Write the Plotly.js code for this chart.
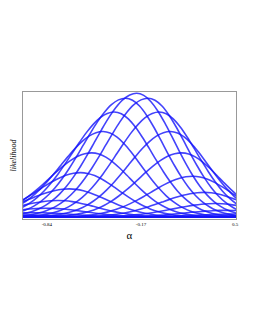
<!DOCTYPE html>
<html><head><meta charset="utf-8">
<script src="https://cdn.plot.ly/plotly-3.0.1.min.js"></script>
<style>html,body{margin:0;padding:0;background:#fff}#chart{width:255px;height:330px}</style>
</head><body><div id="chart"></div>
<script>
// arch (slice) peak positions on the alpha axis and their peak likelihoods
const archCenters = [-1.24,-1.16,-1.08,-1.00,-0.92,-0.84,-0.76,-0.68,-0.60,-0.52,-0.44,-0.36,-0.28,-0.20,-0.12,-0.04,0.04,0.12,0.20,0.28,0.36,0.44,0.52,0.60,0.68,0.76];
const archPeaks   = [0.001,0.0028,0.007,0.0166,0.036,0.072,0.134,0.228,0.359,0.519,0.691,0.849,0.960,1.0,0.960,0.849,0.691,0.519,0.33,0.20,0.11,0.055,0.025,0.011,0.005,0.002];
// shared arch shape: relative likelihood at distance from the arch peak (left / right flank)
const profOffsets = [0,0.05,0.10,0.15,0.20,0.25,0.30,0.35,0.40,0.45,0.50,0.55,0.60,0.65,0.70,0.75,0.80,0.85,0.90,0.95,1.00,1.05,1.10,1.15,1.20,1.30,1.45,1.60];
const profLeft    = [1,0.986,0.946,0.882,0.801,0.707,0.607,0.506,0.411,0.325,0.249,0.186,0.135,0.095,0.066,0.044,0.029,0.018,0.011,0.0066,0.0039,0.0022,0.0012,0.0006,0.0003,0.0001,0,0];
const profRight   = [1,0.983,0.934,0.857,0.760,0.651,0.539,0.432,0.334,0.249,0.180,0.126,0.085,0.055,0.035,0.021,0.012,0.007,0.004,0.002,0.001,0,0,0,0,0,0,0];
const tickVals = [-0.84,-0.17,0.5];
const tickText = ['-0.84','-0.17','0.5'];

const traces = archCenters.map((c,i)=>{
  const x=[],y=[];
  for(let j=profOffsets.length-1;j>0;j--){x.push(c-profOffsets[j]);y.push(archPeaks[i]*profLeft[j]);}
  for(let j=0;j<profOffsets.length;j++){x.push(c+profOffsets[j]);y.push(archPeaks[i]*profRight[j]);}
  return {x,y,type:'scatter',mode:'lines',line:{color:'rgba(20,20,250,0.8)',width:1.6,shape:'spline'},hoverinfo:'skip'};
});

const layout={
  width:255,height:330,showlegend:false,
  margin:{l:23,r:19,t:92,b:111},
  paper_bgcolor:'#fff',plot_bgcolor:'#fff',
  font:{family:'Liberation Serif, serif',color:'#000'},
  xaxis:{range:[-1.01,0.507],tickvals:tickVals,ticktext:tickText,tickfont:{size:5},ticks:'',ticklen:0,showgrid:false,zeroline:false,
    showline:true,mirror:true,linecolor:'#999',linewidth:1,
    title:{text:'α',font:{size:11},standoff:5}},
  yaxis:{range:[-0.015,1.01],showticklabels:false,ticks:'',showgrid:false,zeroline:false,
    showline:true,mirror:true,linecolor:'#999',linewidth:1,
    title:{text:'<i>likelihood</i>',font:{size:8},standoff:4}}
};
Plotly.newPlot('chart',traces,layout,{displayModeBar:false,staticPlot:true});
</script></body></html>
